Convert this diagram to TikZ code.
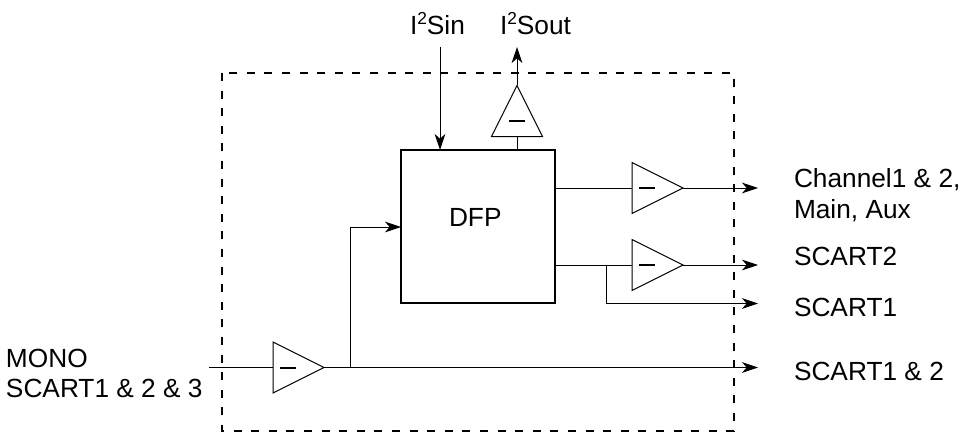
\documentclass[tikz,border=0pt]{standalone}
\usepackage{fontspec}
\setmainfont{Liberation Sans}
\usetikzlibrary{shapes.geometric,arrows.meta}
\newcommand{\suptwo}{\raisebox{7.5pt}{\fontsize{13}{13}\selectfont 2}}
\tikzset{
  amp/.style={draw=black,line width=0.75pt,isosceles triangle,isosceles triangle stretches,inner sep=0pt,outer sep=0pt,minimum width=38.25pt,minimum height=38.25pt},
  ampr/.style={amp,anchor=lower side,shape border rotate=0},
  ampu/.style={amp,anchor=lower side,shape border rotate=90},
  minusbar/.style={inner sep=0pt,outer sep=0pt},
  wire/.style={line width=0.75pt},
  arr/.style={wire,-{Stealth[length=12pt,width=8pt,inset=3.5pt]}},
  lab/.style={font=\fontsize{19.7}{22.5}\selectfont,inner sep=0pt,outer sep=0pt,anchor=base west,align=left},
  dfpbox/.style={draw=black,line width=1.9pt,inner sep=0pt,outer sep=0pt,minimum width=115.5pt,minimum height=114.75pt},
  frame/.style={draw=black,line width=1.8pt,dash pattern=on 6pt off 7.2pt}
}
\begin{document}
\begin{tikzpicture}[x=0.75pt,y=-0.75pt]
\useasboundingbox (0,0) rectangle (960,435);
\draw[frame] (222,73) rectangle (734,431);
\node[dfpbox] (dfp) at (478,226.5) {};
\node[lab] (dfplab) at (449,226.7) {DFP};
% amplifiers
\node[ampu] (a0) at (517,136.5) {};
\node[ampr] (a1) at (632,188) {};
\node[ampr] (a2) at (632,265) {};
\node[ampr] (a3) at (273,367.5) {};
\node[minusbar] (m0) at (517,121) {\rule{11.5pt}{1.5pt}};
\node[minusbar] (m1) at (647,188) {\rule{11.5pt}{1.5pt}};
\node[minusbar] (m2) at (647,265) {\rule{11.5pt}{1.5pt}};
\node[minusbar] (m3) at (288,367.5) {\rule{11.5pt}{1.5pt}};
% labels
\node[lab] (i2sin) at (410,35) {I\suptwo Sin};
\node[lab] (i2sout) at (500,35) {I\suptwo Sout};
\node[lab] (ch) at (794,187.5) {Channel1 \& 2,};
\node[lab] (ch2) at (794,218) {Main, Aux};
\node[lab] (s2) at (794,265) {SCART2};
\node[lab] (s1) at (794,316.7) {SCART1};
\node[lab] (s12) at (794,380.7) {SCART1 \& 2};
\node[lab] (mono) at (6,367.3) {MONO};
\node[lab] (mono2) at (6,397) {SCART1 \& 2 \& 3};
% free ends
\coordinate (sinstart) at (440,47);
\coordinate (souttip) at (517,47);
\coordinate (e1) at (758,188);
\coordinate (e2) at (758,265);
\coordinate (e3) at (758,303.5);
\coordinate (e4) at (758,367.5);
\coordinate (in) at (209,367.5);
\coordinate (j2) at (606.5,265);
\coordinate (j3) at (350.5,367.5);
% connectors
\draw[arr] (sinstart) -- (sinstart |- dfp.north);
\draw[arr] (a0.apex) -- (souttip);
\draw[wire] (a0.lower side) -- (a0.lower side |- dfp.north);
\draw[wire] (dfp.east |- a1.lower side) -- (a1.lower side);
\draw[arr] (a1.apex) -- (e1);
\draw[wire] (dfp.east |- a2.lower side) -- (a2.lower side);
\draw[arr] (a2.apex) -- (e2);
\draw[arr] (j2) |- (e3);
\draw[wire] (in) -- (a3.lower side);
\draw[arr] (a3.apex) -- (e4);
\draw[arr] (j3) |- (dfp.west |- 0,227);
\end{tikzpicture}
\end{document}
